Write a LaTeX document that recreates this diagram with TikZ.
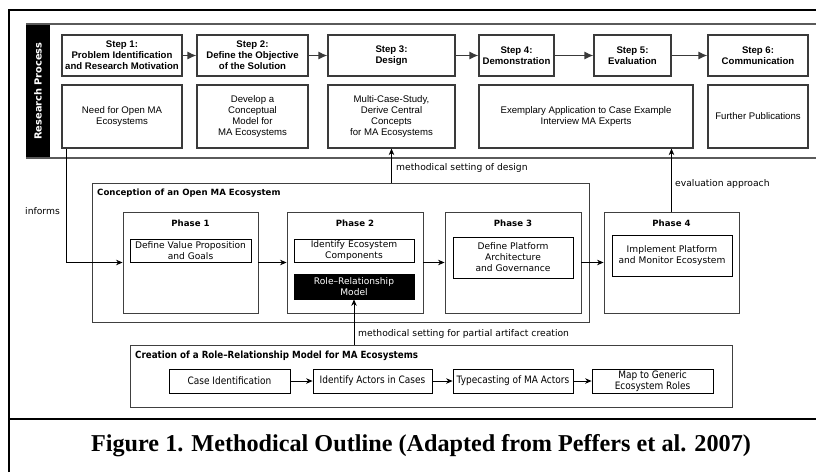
\documentclass[tikz,border=0pt]{standalone}
\usepackage{fontspec}
\setmainfont{Liberation Sans}
\newfontfamily\phasefont{DejaVu Sans}
\newfontfamily\condfont[FakeStretch=0.88]{DejaVu Sans}
\newfontfamily\capfont{Liberation Serif}
\usetikzlibrary{arrows.meta}
\definecolor{boxgray}{HTML}{3A3A3A}
\definecolor{bandgray}{HTML}{5A5A5A}
\definecolor{phgray}{HTML}{404040}
\tikzset{
  stepbox/.style={draw=boxgray, line width=1.2pt, inner sep=0pt, align=center,
    font=\bfseries\fontsize{9.6}{11}\selectfont},
  notebox/.style={draw=boxgray, line width=1.2pt, inner sep=0pt, align=center,
    font=\fontsize{9.6}{11}\selectfont},
  steparrow/.style={draw=boxgray, line width=1.2pt, -{Latex[length=9pt,width=8pt]}},
  framestroke/.style={line width=1.5pt, black},
  bandstroke/.style={line width=1.5pt, bandgray},
  phasebox/.style={draw=phgray, line width=0.9pt, inner sep=0pt},
  phasetitle/.style={font=\phasefont\bfseries\fontsize{8.6}{10}\selectfont, inner sep=0pt},
  innerbox/.style={draw=black, line width=0.8pt, inner sep=0pt, align=center,
    font=\phasefont\fontsize{9.1}{11}\selectfont},
  darkbox/.style={fill=black, draw=black, line width=0.8pt, inner sep=0pt, align=center,
    text=white, font=\phasefont\fontsize{9.1}{11}\selectfont},
  flowarrow/.style={draw=black, line width=0.8pt, -{Stealth[length=6.5pt,width=5.5pt]}},
  labeltext/.style={font=\phasefont\fontsize{9.2}{10}\selectfont, inner sep=0pt, anchor=west},
  casebox/.style={draw=black, line width=0.8pt, inner sep=0pt, align=center,
    font=\condfont\fontsize{10.2}{11}\selectfont},
}
\begin{document}
\begin{tikzpicture}[x=1pt,y=-1pt]
\useasboundingbox (0,0) rectangle (816,472);

% outer frame and caption divider
\draw[framestroke] (9,472) -- (9,10) -- (816,10);
\draw[framestroke] (9,419) -- (816,419);

% research process band
\fill[black] (26,24) rectangle (50,158);
\draw[bandstroke] (26,24) -- (816,24);
\draw[bandstroke] (26,158) -- (816,158);
\node[rotate=90, text=white, font=\phasefont\bfseries\fontsize{9.8}{11}\selectfont] (rp) at (38,91) {Research Process};

% steps
\node[stepbox, minimum width=120pt, minimum height=41pt] (s1) at (122,55.5) {Step 1:\\Problem Identification\\and Research Motivation};
\node[stepbox, minimum width=111pt, minimum height=41pt] (s2) at (252.5,55.5) {Step 2:\\Define the Objective\\of the Solution};
\node[stepbox, minimum width=127pt, minimum height=41pt] (s3) at (391.5,55.5) {Step 3:\\Design};
\node[stepbox, minimum width=75pt, minimum height=41pt] (s4) at (516.5,55.5) {Step 4:\\Demonstration};
\node[stepbox, minimum width=77pt, minimum height=41pt] (s5) at (632.5,55.5) {Step 5:\\Evaluation};
\node[stepbox, minimum width=100pt, minimum height=41pt] (s6) at (758,55.5) {Step 6:\\Communication};
\draw[steparrow] (s1) -- (s2);
\draw[steparrow] (s2) -- (s3);
\draw[steparrow] (s3) -- (s4);
\draw[steparrow] (s4) -- (s5);
\draw[steparrow] (s5) -- (s6);

% step outcomes
\node[notebox, minimum width=120pt, minimum height=63pt] (n1) at (122,116.5) {Need for Open MA\\Ecosystems};
\node[notebox, minimum width=111pt, minimum height=63pt] (n2) at (252.5,116.5) {Develop a\\Conceptual\\Model for\\MA Ecosystems};
\node[notebox, minimum width=127pt, minimum height=63pt] (n3) at (391.5,116.5) {Multi-Case-Study,\\Derive Central\\Concepts\\for MA Ecosystems};
\node[notebox, minimum width=214pt, minimum height=63pt] (n4) at (586,116.5) {Exemplary Application to Case Example\\Interview MA Experts};
\node[notebox, minimum width=100pt, minimum height=63pt] (n5) at (758,116.5) {Further Publications};

% conception of the ecosystem
\node[phasebox, minimum width=497pt, minimum height=139pt] (con) at (340.5,252.5) {};
\node[phasetitle, anchor=west] (cont) at (97,193) {Conception of an Open MA Ecosystem};

\node[phasebox, minimum width=135pt, minimum height=101pt] (p1) at (190.5,262.5) {};
\node[phasebox, minimum width=136pt, minimum height=101pt] (p2) at (355,262.5) {};
\node[phasebox, minimum width=136pt, minimum height=101pt] (p3) at (513,262.5) {};
\node[phasebox, minimum width=135pt, minimum height=101pt] (p4) at (671.5,262.5) {};
\node[phasetitle] (p1t) at (190.5,223) {Phase 1};
\node[phasetitle] (p2t) at (355,223) {Phase 2};
\node[phasetitle] (p3t) at (513,223) {Phase 3};
\node[phasetitle] (p4t) at (671.5,223) {Phase 4};

\node[innerbox, minimum width=121pt, minimum height=23pt] (v1) at (190.5,250.5) {Define Value Proposition\\and Goals};
\node[innerbox, minimum width=120pt, minimum height=23pt] (i2) at (354,250.5) {Identify Ecosystem\\Components};
\node[darkbox, minimum width=120pt, minimum height=25pt] (role) at (354,286.5) {Role–Relationship\\Model};
\node[innerbox, minimum width=120pt, minimum height=41pt] (d3) at (513,257.5) {Define Platform\\Architecture\\and Governance};
\node[innerbox, minimum width=120pt, minimum height=41pt] (m4) at (672,255.5) {Implement Platform\\and Monitor Ecosystem};

\draw[flowarrow] (p1) -- (p2);
\draw[flowarrow] (p2) -- (p3);
\draw[flowarrow] (p3) -- (p4);
\draw[flowarrow] ([xshift=5pt]n1.south west) |- (p1.west);
\node[labeltext] (inf) at (25,211) {informs};

\draw[flowarrow] (con.north -| n3.south) -- (n3.south);
\node[labeltext] (ldes) at (396,168) {methodical setting of design};
\draw[flowarrow] (p4.north) -- (p4.north |- n4.south);
\node[labeltext] (leva) at (675,184) {evaluation approach};

% creation of the role-relationship model
\node[phasebox, minimum width=602pt, minimum height=62pt] (cr) at (431,376) {};
\node[phasetitle, anchor=west, font=\condfont\bfseries\fontsize{9.9}{10}\selectfont] (crt) at (135,356) {Creation of a Role–Relationship Model for MA Ecosystems};
\node[casebox, minimum width=121pt, minimum height=24pt] (c1) at (229.5,381) {Case Identification};
\node[casebox, minimum width=119pt, minimum height=24pt] (c2) at (372.5,381) {Identify Actors in Cases};
\node[casebox, minimum width=120pt, minimum height=24pt] (c3) at (513,381) {Typecasting of MA Actors};
\node[casebox, minimum width=121pt, minimum height=24pt] (c4) at (652.5,381) {Map to Generic\\Ecosystem Roles};
\draw[flowarrow] (c1) -- (c2);
\draw[flowarrow] (c2) -- (c3);
\draw[flowarrow] (c3) -- (c4);

\draw[flowarrow] (cr.north -| role.south) -- (role.south);
\node[labeltext] (lpart) at (358,334) {methodical setting for partial artifact creation};

% caption
\node[font=\capfont\bfseries\fontsize{24.2}{26}\selectfont, inner sep=0pt] (cap) at (421,446) {Figure 1. Methodical Outline (Adapted from Peffers et al. 2007)};
\end{tikzpicture}
\end{document}
